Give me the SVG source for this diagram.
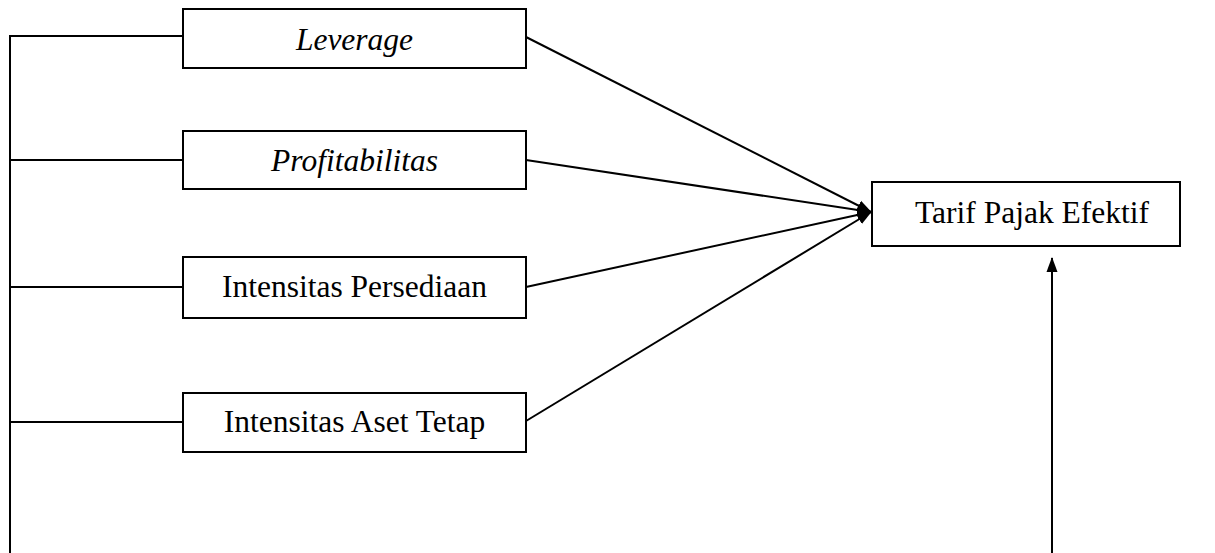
<svg xmlns="http://www.w3.org/2000/svg" width="1215" height="553" viewBox="0 0 1215 553">
<style>
.box{fill:#fff;stroke:#000;stroke-width:2}
.t{font-family:"Liberation Serif","Times New Roman",serif;font-size:31.5px;fill:#000;text-anchor:middle}
.i{font-style:italic}
.c{stroke:#000;stroke-width:2;fill:none}
</style>
<defs>
<marker id="ah" markerWidth="15" markerHeight="15" refX="14" refY="7.5" orient="auto" markerUnits="userSpaceOnUse">
<path d="M0,2 L15,7.5 L0,13 Z" fill="#000"/>
</marker>
</defs>
<g id="connectors">
<path class="c" d="M10,553 V36 H183"/>
<path class="c" d="M10,160 H183"/>
<path class="c" d="M10,287 H183"/>
<path class="c" d="M10,422 H183"/>
<line class="c" x1="526" y1="37" x2="871" y2="212" marker-end="url(#ah)"/>
<line class="c" x1="526" y1="160" x2="871" y2="212" marker-end="url(#ah)"/>
<line class="c" x1="526" y1="287" x2="871" y2="212" marker-end="url(#ah)"/>
<line class="c" x1="526" y1="421" x2="871" y2="212" marker-end="url(#ah)"/>
<line class="c" x1="1052" y1="553" x2="1052" y2="258" marker-end="url(#ah)"/>
</g>
<g id="leverage">
<rect class="box" x="183" y="9" width="343" height="59"/>
<text class="t i" x="354.5" y="50">Leverage</text>
</g>
<g id="profitabilitas">
<rect class="box" x="183" y="131" width="343" height="58"/>
<text class="t i" x="354.5" y="171">Profitabilitas</text>
</g>
<g id="persediaan">
<rect class="box" x="183" y="257" width="343" height="61"/>
<text class="t" x="354.5" y="297">Intensitas Persediaan</text>
</g>
<g id="aset">
<rect class="box" x="183" y="393" width="343" height="59"/>
<text class="t" x="354.5" y="432">Intensitas Aset Tetap</text>
</g>
<g id="tarif">
<rect class="box" x="872" y="182" width="308" height="64"/>
<text class="t" x="1032" y="223">Tarif Pajak Efektif</text>
</g>
</svg>
